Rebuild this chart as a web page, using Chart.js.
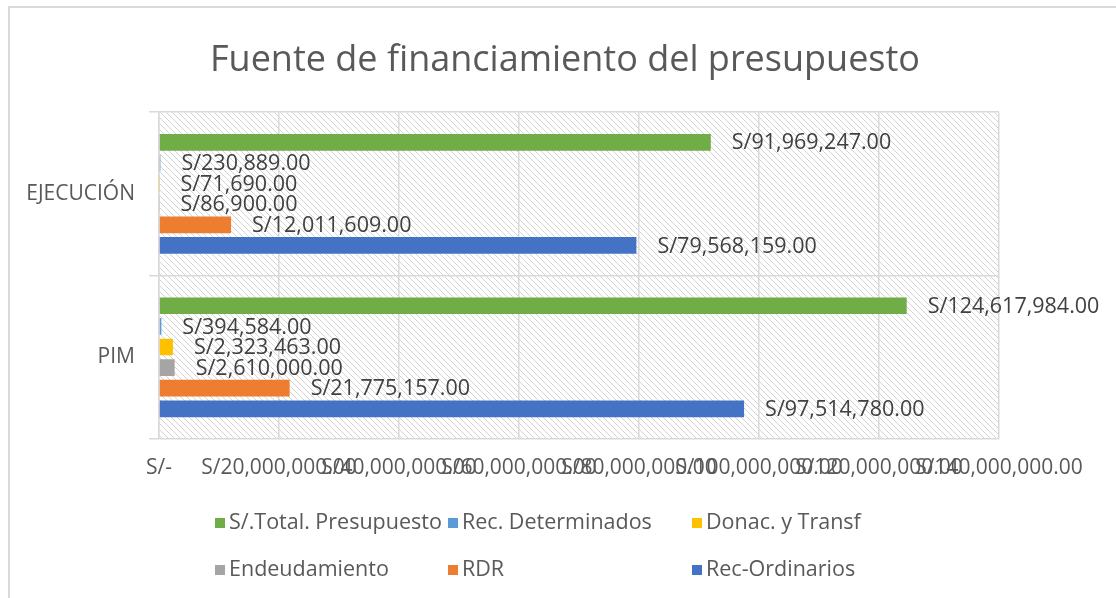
<!DOCTYPE html>
<html>
<head>
<meta charset="utf-8">
<title>Fuente de financiamiento del presupuesto</title>
<script src="https://cdn.jsdelivr.net/npm/chart.js@4.4.0/dist/chart.umd.min.js"></script>
<style>
    html, body { margin: 0; padding: 0; background: #fff; }
    #wrap { width: 1116px; height: 598px; }
</style>
</head>
<body>
<div id="wrap"><canvas id="fuenteChart" width="1116" height="598"></canvas></div>
<script>
// Data
const categories = ['EJECUCIÓN', 'PIM'];
const seriesNames = ['S/.Total. Presupuesto', 'Rec. Determinados', 'Donac. y Transf', 'Endeudamiento', 'RDR', 'Rec-Ordinarios'];
const totalPresupuesto = [91969247, 124617984];
const recDeterminados = [230889, 394584];
const donacTransf = [71690, 2323463];
const endeudamiento = [86900, 2610000];
const rdr = [12011609, 21775157];
const recOrdinarios = [79568159, 97514780];
const xTicks = [0, 20000000, 40000000, 60000000, 80000000, 100000000, 120000000, 140000000];

const FONT = "'Open Sans', 'DejaVu Sans', sans-serif";
const colors = ['#70AD47', '#5B9BD5', '#FFC000', '#A5A5A5', '#ED7D31', '#4472C4'];
const seriesValues = [totalPresupuesto, recDeterminados, donacTransf, endeudamiento, rdr, recOrdinarios];

function money(v) {
    if (v === 0) return 'S/-';
    return 'S/' + v.toLocaleString('en-US', { minimumFractionDigits: 2, maximumFractionDigits: 2 });
}

function makeHatch(ctx) {
    const tile = document.createElement('canvas');
    tile.width = 6;
    tile.height = 6;
    const p = tile.getContext('2d');
    p.strokeStyle = '#d3d3d3';
    p.lineWidth = 1;
    p.beginPath();
    for (let o = -6; o <= 6; o += 6) {
        p.moveTo(o, 0);
        p.lineTo(o + 6, 6);
    }
    p.stroke();
    return ctx.createPattern(tile, 'repeat');
}

// plot background + outer frame
const backgroundPlugin = {
    id: 'background',
    beforeDraw(chart) {
        const { ctx, chartArea } = chart;
        ctx.save();
        ctx.fillStyle = makeHatch(ctx);
        ctx.fillRect(chartArea.left, chartArea.top, chartArea.right - chartArea.left, chartArea.bottom - chartArea.top);
        ctx.strokeStyle = '#d9d9d9';
        ctx.lineWidth = 2;
        ctx.beginPath();
        ctx.moveTo(9, chart.height);
        ctx.lineTo(9, 7);
        ctx.lineTo(chart.width, 7);
        ctx.stroke();
        ctx.restore();
    }
};

// value labels at the end of every bar
const valueLabels = {
    id: 'valueLabels',
    afterDatasetsDraw(chart) {
        const ctx = chart.ctx;
        ctx.save();
        ctx.font = '21.5px ' + FONT;
        ctx.fillStyle = '#404040';
        ctx.textBaseline = 'middle';
        ctx.textAlign = 'left';
        chart.data.datasets.forEach((ds, i) => {
            chart.getDatasetMeta(i).data.forEach((bar, j) => {
                ctx.fillText(money(ds.data[j]), bar.x + 21, bar.y + 1);
            });
        });
        ctx.restore();
    }
};

// legend laid out as a 3 x 2 grid, like the original
const gridLegend = {
    id: 'gridLegend',
    afterDraw(chart) {
        const ctx = chart.ctx;
        const cols = [215, 448, 692];
        const rows = [523, 570];
        ctx.save();
        ctx.font = '21.5px ' + FONT;
        ctx.textBaseline = 'middle';
        chart.data.datasets.forEach((ds, i) => {
            const x = cols[i % 3];
            const y = rows[Math.floor(i / 3)];
            ctx.fillStyle = ds.backgroundColor;
            ctx.fillRect(x, y - 5, 10, 10);
            ctx.fillStyle = '#595959';
            ctx.fillText(ds.label, x + 14, y);
        });
        ctx.restore();
    }
};

const ctx = document.getElementById('fuenteChart').getContext('2d');
new Chart(ctx, {
    type: 'bar',
    data: {
        labels: categories,
        datasets: seriesNames.map((name, i) => ({
            label: name,
            data: seriesValues[i],
            backgroundColor: colors[i],
            borderWidth: 0,
            categoryPercentage: 0.757,
            barPercentage: 0.81
        }))
    },
    options: {
        indexAxis: 'y',
        responsive: false,
        animation: false,
        layout: { padding: { left: 14, right: 0, top: 0, bottom: 109 } },
        plugins: {
            legend: { display: false },
            tooltip: { enabled: false },
            title: {
                display: true,
                text: 'Fuente de financiamiento del presupuesto',
                color: '#595959',
                font: { family: FONT, size: 36, weight: 'normal' },
                padding: { top: 39, bottom: 30 }
            }
        },
        scales: {
            x: {
                min: 0,
                max: 140000000,
                afterBuildTicks: scale => { scale.ticks = xTicks.map(v => ({ value: v })); },
                afterFit: scale => {
                    scale.height = 50;
                    scale.paddingLeft = 0;
                    scale.paddingRight = 117;
                },
                grid: { color: '#d9d9d9', lineWidth: 1.5, drawTicks: false },
                border: { display: false },
                ticks: {
                    autoSkip: false,
                    maxRotation: 0,
                    minRotation: 0,
                    padding: 16,
                    color: '#595959',
                    font: { family: FONT, size: 21 },
                    callback: value => money(value)
                }
            },
            y: {
                afterFit: scale => { scale.width = 145; },
                grid: { color: '#d9d9d9', lineWidth: 1.5, tickLength: 10, offset: true },
                border: { color: '#d9d9d9', width: 1.5 },
                ticks: {
                    padding: 14,
                    color: '#595959',
                    font: { family: FONT, size: 21 }
                }
            }
        }
    },
    plugins: [backgroundPlugin, valueLabels, gridLegend]
});
</script>
</body>
</html>
